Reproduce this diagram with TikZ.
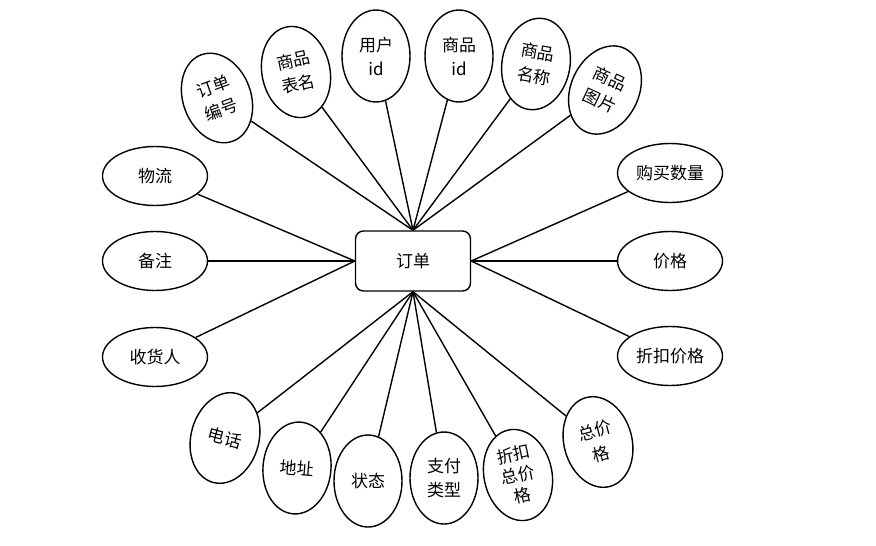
\documentclass[tikz,border=0pt]{standalone}
\usepackage{fontspec}
\newfontfamily\cjk{Noto Sans CJK SC}
\usepackage{tikz}
\usetikzlibrary{shapes.geometric}
\tikzset{
  entidad/.style={draw,rounded corners=8pt,line width=1.4pt,minimum width=115pt,minimum height=60pt,font=\cjk\fontsize{17}{22}\selectfont},
  atributo/.style={draw,ellipse,line width=1.4pt,fill=white,inner sep=0pt,align=center,minimum width=105pt,minimum height=59pt,font=\cjk\fontsize{17}{24}\selectfont},
  atributov/.style={atributo,minimum width=68pt,minimum height=92pt},
  enlace/.style={line width=1.4pt},
}

\begin{document}
\begin{tikzpicture}[x=1pt,y=-1pt]
  \useasboundingbox (0,0) rectangle (876,546);
  \node[entidad] (orden) at (413,261) {订单};
  % arriba
  \node[atributov,rotate=20] (bianhao) at (217,98) {订单\\编号};
  \node[atributov,rotate=12] (biaoming) at (296,72) {商品\\表名};
  \node[atributov] (yonghu) at (376,56) {用户\\id};
  \node[atributov] (spid) at (459,56) {商品\\id};
  \node[atributov,rotate=-10] (mingcheng) at (536,64) {商品\\名称};
  \node[atributov,rotate=-25] (tupian) at (605,90) {商品\\图片};
  % izquierda
  \node[atributo] (wuliu) at (155,176) {物流};
  \node[atributo] (beizhu) at (155,261) {备注};
  \node[atributo] (shouhuo) at (155,357) {收货人};
  % derecha
  \node[atributo] (shuliang) at (670,173) {购买数量};
  \node[atributo] (jiage) at (670,261) {价格};
  \node[atributo] (zhekou) at (670,356) {折扣价格};
  % abajo
  \node[atributov,rotate=-15] (dianhua) at (225,438) {电话};
  \node[atributov,rotate=-5] (dizhi) at (297,468) {地址};
  \node[atributov] (zhuangtai) at (368,481) {状态};
  \node[atributov] (zhifu) at (444,478) {支付\\类型};
  \node[atributov,rotate=12,font=\cjk\fontsize{17}{21}\selectfont] (zkzong) at (518,475) {折扣\\总价\\格};
  \node[atributov,rotate=15] (zongjia) at (598,442) {总价\\格};
  \foreach \a in {bianhao,biaoming,yonghu,spid,mingcheng,tupian}
    \draw[enlace] (\a) -- (orden.north);
  \foreach \a in {wuliu,beizhu,shouhuo}
    \draw[enlace] (\a) -- (orden.west);
  \foreach \a in {shuliang,jiage,zhekou}
    \draw[enlace] (\a) -- (orden.east);
  \foreach \a in {dianhua,dizhi,zhuangtai,zhifu,zkzong,zongjia}
    \draw[enlace] (\a) -- (orden.south);
\end{tikzpicture}
\end{document}
